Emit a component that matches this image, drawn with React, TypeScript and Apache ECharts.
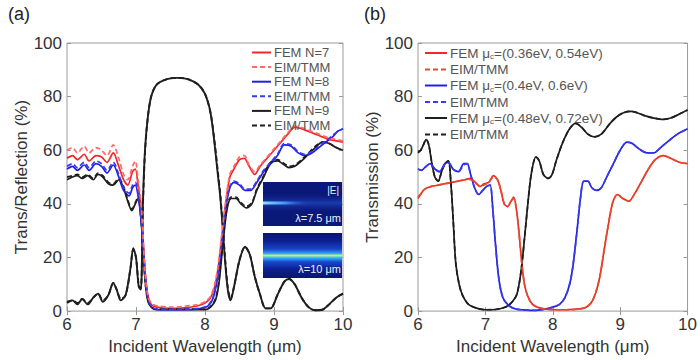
import React, { useEffect, useRef } from "react";
import * as echarts from "echarts";

// ---------- Panel (a): Trans/Reflection vs wavelength ----------
const aReflFEM: number[][] = [
  [6.0, 3], [6.08, 4], [6.15, 2.5], [6.22, 4.5], [6.3, 2.5], [6.38, 5], [6.45, 6.5], [6.52, 3.5],
  [6.6, 6], [6.67, 10.5], [6.72, 8], [6.78, 4], [6.85, 6], [6.92, 16], [6.96, 23.5], [7.0, 20],
  [7.04, 9], [7.07, 8], [7.1, 40], [7.13, 60], [7.17, 72], [7.22, 80], [7.3, 84.5], [7.45, 86.5],
  [7.6, 87], [7.75, 86.5], [7.9, 84.5], [8.0, 81], [8.08, 74], [8.14, 62], [8.19, 50], [8.22, 43],
  [8.26, 30], [8.29, 19], [8.33, 8], [8.37, 4], [8.42, 9], [8.5, 19], [8.58, 24], [8.65, 21],
  [8.72, 13], [8.8, 6], [8.88, 1], [8.95, 1], [9.05, 6], [9.15, 11], [9.22, 12], [9.3, 10],
  [9.4, 5], [9.5, 1.5], [9.6, 0.3], [9.7, 0.5], [9.8, 2.5], [9.9, 5], [10, 6.5],
];
const aReflEIM: number[][] = [
  [6.0, 3.5], [6.08, 4], [6.15, 3], [6.22, 4.5], [6.3, 3], [6.38, 5], [6.45, 6.5], [6.52, 4],
  [6.6, 6], [6.67, 10.5], [6.72, 8], [6.78, 4.5], [6.85, 6], [6.92, 16], [6.96, 23], [7.0, 20],
  [7.04, 9.5], [7.07, 8.5], [7.1, 39], [7.13, 59], [7.17, 72], [7.22, 80], [7.3, 84.5], [7.45, 86.5],
  [7.6, 87], [7.75, 86.5], [7.9, 84.5], [8.0, 81], [8.08, 74], [8.14, 63], [8.19, 51], [8.22, 44],
  [8.26, 31], [8.29, 20], [8.33, 9], [8.37, 4.5], [8.42, 9], [8.5, 19], [8.58, 24], [8.65, 21],
  [8.72, 13], [8.8, 6], [8.88, 1], [8.95, 1], [9.05, 6], [9.15, 11], [9.22, 12], [9.3, 10],
  [9.4, 5], [9.5, 1.5], [9.6, 0.3], [9.7, 0.5], [9.8, 2.5], [9.9, 5], [10, 6.5],
];
const aT7FEM: number[][] = [
  [6.0, 57], [6.08, 58], [6.15, 56.5], [6.25, 58.5], [6.32, 56], [6.42, 58], [6.5, 57.5], [6.58, 55.5],
  [6.67, 59], [6.75, 54], [6.82, 49], [6.88, 47], [6.95, 52], [6.99, 53], [7.03, 47], [7.07, 40],
  [7.1, 28], [7.13, 15], [7.17, 6], [7.22, 2.5], [7.3, 1.5], [7.5, 1], [7.7, 1.2], [7.9, 2],
  [8.0, 3], [8.08, 5], [8.14, 9], [8.19, 16], [8.24, 27], [8.3, 40], [8.36, 50], [8.42, 53],
  [8.5, 56.5], [8.57, 57], [8.64, 54], [8.72, 51], [8.8, 54], [8.9, 57], [9.0, 60], [9.1, 63],
  [9.2, 66], [9.3, 68.5], [9.4, 68], [9.5, 67], [9.6, 66], [9.7, 65], [9.8, 64], [9.9, 63.5], [10, 63],
];
const aT7EIM: number[][] = [
  [6.0, 60], [6.08, 61], [6.15, 59], [6.25, 61.5], [6.32, 59], [6.42, 61], [6.5, 60], [6.58, 58],
  [6.67, 62], [6.75, 57], [6.82, 51], [6.88, 49], [6.95, 54], [6.99, 56], [7.03, 49], [7.07, 41],
  [7.1, 29], [7.13, 15], [7.17, 6], [7.22, 3], [7.3, 2], [7.5, 1.5], [7.7, 1.8], [7.9, 2.5],
  [8.0, 3.5], [8.08, 5.5], [8.14, 10], [8.19, 17], [8.24, 28], [8.3, 41], [8.36, 51], [8.42, 54],
  [8.5, 57.5], [8.57, 58], [8.64, 54.5], [8.72, 52], [8.8, 54.5], [8.9, 57.5], [9.0, 60.5], [9.1, 63.5],
  [9.2, 66.5], [9.3, 69], [9.4, 68.5], [9.5, 67.5], [9.6, 66.5], [9.7, 65.5], [9.8, 64.5], [9.9, 64], [10, 63.5],
];
const aT8FEM: number[][] = [
  [6.0, 53], [6.08, 54], [6.15, 52.5], [6.25, 54.5], [6.32, 52.5], [6.42, 55], [6.5, 54], [6.58, 51.5],
  [6.67, 54.5], [6.75, 50], [6.82, 45], [6.9, 43], [6.95, 46], [6.99, 47], [7.03, 43], [7.07, 35],
  [7.1, 25], [7.14, 12], [7.18, 4], [7.25, 1], [7.4, 0.5], [7.7, 0.5], [7.95, 1], [8.05, 2],
  [8.12, 5], [8.18, 12], [8.24, 24], [8.3, 38], [8.36, 46], [8.42, 48], [8.5, 47], [8.58, 45],
  [8.66, 45], [8.75, 48], [8.85, 52], [8.95, 55], [9.05, 58], [9.15, 62], [9.25, 61.5], [9.35, 59],
  [9.45, 58], [9.55, 59], [9.65, 61], [9.75, 63], [9.85, 65], [9.92, 67], [10, 68],
];
const aT8EIM: number[][] = [
  [6.0, 54], [6.08, 55], [6.15, 53.5], [6.25, 55.5], [6.32, 53.5], [6.42, 56], [6.5, 55], [6.58, 52.5],
  [6.67, 55.5], [6.75, 51], [6.82, 46], [6.9, 44], [6.95, 47], [6.99, 48], [7.03, 44], [7.07, 36],
  [7.1, 26], [7.14, 12], [7.18, 4], [7.25, 1.2], [7.4, 0.7], [7.7, 0.7], [7.95, 1.2], [8.05, 2.3],
  [8.12, 5.5], [8.18, 13], [8.24, 25], [8.3, 39], [8.36, 46.5], [8.42, 48.5], [8.5, 47.5], [8.58, 45.5],
  [8.66, 45.5], [8.75, 48.5], [8.85, 52.5], [8.95, 55.5], [9.05, 58.5], [9.15, 62.5], [9.25, 62], [9.35, 59.5],
  [9.45, 58.5], [9.55, 59.5], [9.65, 61.5], [9.75, 63.5], [9.85, 65.5], [9.92, 67], [10, 68],
];
const aT9FEM: number[][] = [
  [6.0, 49], [6.08, 50], [6.15, 50.5], [6.22, 49.5], [6.3, 50.5], [6.38, 49], [6.45, 51], [6.52, 50],
  [6.6, 47.5], [6.67, 47], [6.75, 49], [6.82, 46], [6.88, 41], [6.94, 37.5], [6.99, 40], [7.03, 42],
  [7.07, 35], [7.1, 25], [7.13, 12], [7.17, 4], [7.22, 1.5], [7.3, 0.5], [7.6, 0.5], [8.0, 0.5],
  [8.08, 1.5], [8.15, 4], [8.2, 10], [8.26, 25], [8.32, 38], [8.38, 42], [8.45, 42], [8.52, 40],
  [8.6, 38.5], [8.68, 40], [8.75, 45], [8.85, 50], [8.95, 55], [9.05, 56], [9.15, 54.5], [9.22, 53.5],
  [9.3, 54], [9.4, 56], [9.5, 58.5], [9.6, 61], [9.7, 63], [9.8, 62.5], [9.9, 61], [10, 60],
];
const aT9EIM: number[][] = [
  [6.0, 50], [6.08, 50.5], [6.15, 51], [6.22, 50], [6.3, 51], [6.38, 49.5], [6.45, 51.5], [6.52, 50.5],
  [6.6, 48], [6.67, 47.5], [6.75, 49.5], [6.82, 46.5], [6.88, 41.5], [6.94, 38], [6.99, 40.5], [7.03, 42.5],
  [7.07, 35.5], [7.1, 25.5], [7.13, 12], [7.17, 4], [7.22, 1.5], [7.3, 0.7], [7.6, 0.7], [8.0, 0.7],
  [8.08, 1.7], [8.15, 4.5], [8.2, 11], [8.26, 26], [8.32, 39], [8.38, 42.5], [8.45, 42.5], [8.52, 40.5],
  [8.6, 39], [8.68, 40.5], [8.75, 45.5], [8.85, 50.5], [8.95, 55.5], [9.05, 56.5], [9.15, 55], [9.22, 54],
  [9.3, 54.5], [9.4, 56.5], [9.5, 59], [9.6, 61.5], [9.7, 63], [9.8, 62.5], [9.9, 61], [10, 60],
];

// ---------- Panel (b): Transmission vs wavelength ----------
const bRedFEM: number[][] = [
  [6.0, 42], [6.05, 44], [6.1, 45.5], [6.2, 46.5], [6.3, 47], [6.4, 47.5], [6.5, 48], [6.6, 48.5],
  [6.7, 49], [6.78, 49.5], [6.85, 48], [6.92, 46.5], [6.98, 47.5], [7.05, 48], [7.12, 50.5], [7.18, 49],
  [7.23, 45], [7.28, 40], [7.33, 39], [7.38, 41], [7.42, 42.5], [7.46, 38], [7.5, 29], [7.54, 18],
  [7.58, 10], [7.63, 5.5], [7.7, 2.5], [7.8, 1.2], [7.95, 0.6], [8.2, 0.5], [8.4, 0.8], [8.5, 1.5],
  [8.58, 3.5], [8.64, 7], [8.7, 13], [8.77, 24], [8.83, 33], [8.89, 40.5], [8.96, 43.5], [9.04, 42],
  [9.13, 41], [9.22, 44], [9.32, 48.5], [9.42, 53], [9.52, 56.5], [9.64, 58], [9.75, 57], [9.88, 55.5], [10, 55],
];
const bRedEIM: number[][] = [
  [6.0, 42.5], [6.05, 44], [6.1, 45.5], [6.2, 46.5], [6.3, 47], [6.4, 47.5], [6.5, 48], [6.6, 48.5],
  [6.7, 49], [6.78, 49], [6.85, 48], [6.92, 46.5], [6.98, 47], [7.05, 48], [7.12, 50], [7.18, 49],
  [7.23, 45], [7.28, 40], [7.33, 39], [7.38, 41], [7.42, 42], [7.46, 38], [7.5, 29], [7.54, 18],
  [7.58, 10], [7.63, 5.5], [7.7, 2.5], [7.8, 1.2], [7.95, 0.6], [8.2, 0.5], [8.4, 0.8], [8.5, 1.5],
  [8.58, 3.5], [8.64, 7], [8.7, 13], [8.77, 24], [8.83, 33], [8.89, 40.5], [8.96, 43.5], [9.04, 42],
  [9.13, 41], [9.22, 44], [9.32, 48.5], [9.42, 53], [9.52, 56.5], [9.64, 58], [9.75, 57], [9.88, 55.5], [10, 55],
];
const bBlueFEM: number[][] = [
  [6.0, 53], [6.05, 52.5], [6.1, 53.5], [6.18, 55], [6.25, 53], [6.32, 52], [6.4, 55], [6.45, 55.5],
  [6.52, 53], [6.6, 52], [6.68, 55], [6.73, 55], [6.78, 51], [6.84, 46], [6.9, 43.5], [6.96, 45],
  [7.02, 46.5], [7.07, 47], [7.11, 38], [7.15, 25], [7.2, 12], [7.26, 5], [7.35, 2], [7.45, 0.8],
  [7.6, 0.4], [7.75, 0.3], [7.9, 0.8], [8.0, 1.5], [8.1, 2.5], [8.18, 5], [8.25, 10], [8.3, 17],
  [8.36, 30], [8.41, 42], [8.46, 48.5], [8.52, 48.5], [8.58, 46], [8.65, 45], [8.72, 46], [8.8, 50],
  [8.9, 55], [9.0, 60], [9.1, 63], [9.18, 62.5], [9.28, 60.5], [9.4, 59], [9.5, 59], [9.6, 61],
  [9.72, 63.5], [9.85, 66], [10, 68],
];
const bBlueEIM: number[][] = [
  [6.0, 53], [6.05, 52.5], [6.1, 53.5], [6.18, 55], [6.25, 53], [6.32, 52], [6.4, 55], [6.45, 55.5],
  [6.52, 53], [6.6, 52], [6.68, 54.5], [6.73, 55], [6.78, 51], [6.84, 46], [6.9, 43.5], [6.96, 45],
  [7.02, 46.5], [7.07, 47], [7.11, 38], [7.15, 25], [7.2, 12], [7.26, 5], [7.35, 2], [7.45, 0.8],
  [7.6, 0.4], [7.75, 0.3], [7.9, 0.8], [8.0, 1.5], [8.1, 2.5], [8.18, 5], [8.25, 10], [8.3, 17],
  [8.36, 30], [8.41, 42], [8.46, 48.5], [8.52, 48.5], [8.58, 46], [8.65, 45], [8.72, 46], [8.8, 50],
  [8.9, 55], [9.0, 60], [9.1, 63], [9.18, 62.5], [9.28, 60.5], [9.4, 59], [9.5, 59], [9.6, 61],
  [9.72, 63.5], [9.85, 66], [10, 68],
];
const bBlackFEM: number[][] = [
  [6.0, 59], [6.04, 60], [6.08, 62], [6.12, 64], [6.16, 62], [6.2, 56], [6.25, 50], [6.3, 48.5],
  [6.35, 52], [6.4, 55], [6.45, 56], [6.49, 47], [6.52, 35], [6.56, 18], [6.61, 10], [6.66, 6],
  [6.75, 2.5], [6.88, 1], [7.0, 0.5], [7.15, 0.6], [7.3, 1.5], [7.4, 3.5], [7.47, 6.5], [7.53, 15],
  [7.58, 27], [7.63, 40], [7.68, 51], [7.75, 57.5], [7.8, 56], [7.86, 51], [7.93, 49.5], [7.99, 51],
  [8.05, 56], [8.15, 63], [8.25, 68], [8.34, 70], [8.43, 68.5], [8.52, 66], [8.62, 65], [8.72, 66],
  [8.85, 70], [8.95, 72.5], [9.05, 74], [9.16, 74.5], [9.25, 74], [9.35, 73], [9.5, 72], [9.64, 71.5],
  [9.75, 72], [9.88, 73.5], [10, 75],
];
const bBlackEIM: number[][] = [
  [6.0, 59.5], [6.04, 60], [6.08, 62], [6.12, 64], [6.16, 62], [6.2, 56], [6.25, 50], [6.3, 48.5],
  [6.35, 52], [6.4, 55], [6.45, 56], [6.49, 47], [6.52, 35], [6.56, 18], [6.61, 10], [6.66, 6],
  [6.75, 2.5], [6.88, 1], [7.0, 0.5], [7.15, 0.6], [7.3, 1.5], [7.4, 3.5], [7.47, 6.5], [7.53, 15],
  [7.58, 27], [7.63, 40], [7.68, 51], [7.75, 57.5], [7.8, 56], [7.86, 51], [7.93, 49.5], [7.99, 51],
  [8.05, 56], [8.15, 63], [8.25, 68], [8.34, 70], [8.43, 68.5], [8.52, 66], [8.62, 65], [8.72, 66],
  [8.85, 70], [8.95, 72.5], [9.05, 74], [9.16, 74.5], [9.25, 74], [9.35, 73], [9.5, 72], [9.64, 71.5],
  [9.75, 72], [9.88, 73.5], [10, 75],
];

const legendA = ["FEM N=7", "EIM/TMM N=7", "FEM N=8", "EIM/TMM N=8", "FEM N=9", "EIM/TMM N=9"];
const legendB = ["FEM 0.36", "EIM 0.36", "FEM 0.4", "EIM 0.4", "FEM 0.48", "EIM 0.48"];
const legendBLabels: Record<string, string> = {
  "FEM 0.36": "FEM \u03bc{s|c}=(0.36eV, 0.54eV)",
  "EIM 0.36": "EIM/TMM",
  "FEM 0.4": "FEM \u03bc{s|c}=(0.4eV, 0.6eV)",
  "EIM 0.4": "EIM/TMM",
  "FEM 0.48": "FEM \u03bc{s|c}=(0.48eV, 0.72eV)",
  "EIM 0.48": "EIM/TMM",
};

const FONT = "Liberation Sans, Arial, sans-serif";
const RED = "#f02828";
const RED_D = "#ff6a6a";
const RED_DB = "#e0502a";
const BLUE = "#2020e0";
const BLUE_D = "#3a3af0";
const BLACK = "#1e1e1e";

export default function App() {
  const ref = useRef<HTMLDivElement>(null);
  useEffect(() => {
    if (!ref.current) return;
    const chart = echarts.init(ref.current, null, { renderer: "svg" });

    const gridA = { left: 67, right: 357, top: 43, bottom: 47 };
    const gridB = { left: 418, right: 5, top: 43, bottom: 47 };

    const xBase = (gi: number, name: string, primary: boolean) => ({
      type: "value",
      gridIndex: gi,
      min: 6,
      max: 10,
      interval: 1,
      position: primary ? "bottom" : "top",
      name: primary ? name : "",
      nameLocation: "middle",
      nameGap: 20,
      nameTextStyle: { fontFamily: FONT, fontSize: 17, color: "#333" },
      axisLine: { show: false },
      axisTick: { show: true, inside: true, length: 4, lineStyle: { color: "#999" } },
      axisLabel: primary
        ? { show: true, margin: 5, fontFamily: FONT, fontSize: 17, color: "#333" }
        : { show: false },
      splitLine: { show: false },
    });
    const yBase = (gi: number, name: string, primary: boolean, gap: number) => ({
      type: "value",
      gridIndex: gi,
      min: 0,
      max: 100,
      interval: 20,
      position: primary ? "left" : "right",
      name: primary ? name : "",
      nameLocation: "middle",
      nameGap: gap,
      nameTextStyle: { fontFamily: FONT, fontSize: 17, color: "#333" },
      axisLine: { show: false },
      axisTick: { show: true, inside: true, length: 4, lineStyle: { color: "#999" } },
      axisLabel: primary
        ? { show: true, margin: 5, fontFamily: FONT, fontSize: 17, color: "#333" }
        : { show: false },
      splitLine: { show: false },
    });

    const line = (
      name: string,
      data: number[][],
      color: string,
      dashed: boolean,
      xi: number,
      yi: number,
      width = 1.7
    ) => ({
      type: "line",
      name,
      data,
      xAxisIndex: xi,
      yAxisIndex: yi,
      symbol: "none",
      smooth: 0.3,
      lineStyle: { color, width, type: dashed ? [5, 3] : "solid" },
      itemStyle: { color },
      z: dashed ? 3 : 2,
    });

    const option: any = {
      animation: false,
      backgroundColor: "#ffffff",
      grid: [
        { ...gridA, show: true, borderColor: "#9a9a9a", borderWidth: 1, backgroundColor: "#fff" },
        { ...gridB, show: true, borderColor: "#9a9a9a", borderWidth: 1, backgroundColor: "#fff" },
      ],
      xAxis: [
        xBase(0, "Incident Wavelength (\u03bcm)", true),
        xBase(0, "", false),
        xBase(1, "Incident Wavelength (\u03bcm)", true),
        xBase(1, "", false),
      ],
      yAxis: [
        yBase(0, "Trans/Reflection (%)", true, 35),
        yBase(0, "", false, 0),
        yBase(1, "Transmission (%)", true, 36),
        yBase(1, "", false, 0),
      ],
      legend: [
        {
          data: legendA,
          orient: "vertical",
          left: 251,
          top: 46,
          itemWidth: 19,
          itemHeight: 11,
          itemGap: 1.6,
          padding: 0,
          itemStyle: { opacity: 0 },
          formatter: (n: string) => (n.startsWith("EIM") ? "EIM/TMM" : n),
          textStyle: { fontFamily: FONT, fontSize: 13, color: "#555", padding: [0, 0, 0, -2] },
        },
        {
          data: legendB,
          orient: "vertical",
          left: 424,
          top: 46,
          itemWidth: 22,
          itemHeight: 12,
          itemGap: 2,
          padding: 0,
          itemStyle: { opacity: 0 },
          formatter: (n: string) => legendBLabels[n] || n,
          textStyle: {
            fontFamily: FONT,
            fontSize: 13.5,
            color: "#555",
            padding: [0, 0, 0, -2],
            rich: { s: { fontFamily: FONT, fontSize: 8, color: "#555", padding: [7, 0, 0, 0] } },
          },
        },
      ],
      series: [
        line("R FEM", aReflFEM, BLACK, false, 0, 0, 1.9),
        line("R EIM", aReflEIM, BLACK, true, 0, 0, 1.9),
        line("FEM N=9", aT9FEM, BLACK, false, 0, 0),
        line("EIM/TMM N=9", aT9EIM, BLACK, true, 0, 0),
        line("FEM N=8", aT8FEM, BLUE, false, 0, 0),
        line("EIM/TMM N=8", aT8EIM, BLUE_D, true, 0, 0),
        line("FEM N=7", aT7FEM, RED, false, 0, 0),
        line("EIM/TMM N=7", aT7EIM, RED_D, true, 0, 0),
        line("FEM 0.48", bBlackFEM, BLACK, false, 2, 2),
        line("EIM 0.48", bBlackEIM, BLACK, true, 2, 2),
        line("FEM 0.4", bBlueFEM, BLUE, false, 2, 2),
        line("EIM 0.4", bBlueEIM, BLUE_D, true, 2, 2),
        line("FEM 0.36", bRedFEM, RED, false, 2, 2),
        line("EIM 0.36", bRedEIM, RED_DB, true, 2, 2),
      ],
      graphic: [
        { type: "text", left: 8, top: 5, style: { text: "(a)", font: `18px ${FONT}`, fill: "#222" } },
        { type: "text", left: 364, top: 5, style: { text: "(b)", font: `18px ${FONT}`, fill: "#222" } },
        // inset 1 (|E| at 7.5 um)
        { type: "rect", shape: { x: 263, y: 182, width: 79, height: 44 }, style: { fill: "#0a1878" }, z: 20 },
        {
          type: "rect",
          shape: { x: 263, y: 194, width: 79, height: 18 },
          style: {
            fill: new echarts.graphic.LinearGradient(0, 0, 0, 1, [
              { offset: 0, color: "rgba(20,40,150,0)" },
              { offset: 0.5, color: "rgba(30,70,190,0.8)" },
              { offset: 1, color: "rgba(20,40,150,0)" },
            ]),
          },
          z: 21,
        },
        {
          type: "rect",
          shape: { x: 263, y: 201.5, width: 45, height: 3 },
          style: {
            fill: new echarts.graphic.LinearGradient(0, 0, 1, 0, [
              { offset: 0, color: "rgba(140,230,255,1)" },
              { offset: 0.5, color: "rgba(80,170,255,0.8)" },
              { offset: 1, color: "rgba(40,80,220,0)" },
            ]),
          },
          z: 22,
        },
        { type: "text", x: 339, y: 185, style: { text: "|E|", font: `10px ${FONT}`, fill: "#e8eeff", align: "right" }, z: 23 },
        { type: "text", x: 341, y: 212, style: { text: "\u03bb=7.5 \u03bcm", font: `11px ${FONT}`, fill: "#e8eeff", align: "right" }, z: 23 },
        // inset 2 (10 um)
        {
          type: "rect",
          shape: { x: 263, y: 233, width: 79, height: 45 },
          style: {
            fill: new echarts.graphic.LinearGradient(0, 0, 0, 1, [
              { offset: 0, color: "#0a1570" },
              { offset: 0.18, color: "#0d1f90" },
              { offset: 0.36, color: "#1a44c8" },
              { offset: 0.45, color: "#2c9cf8" },
              { offset: 0.5, color: "#c8f070" },
              { offset: 0.55, color: "#30b8ff" },
              { offset: 0.64, color: "#1848d0" },
              { offset: 0.8, color: "#0d2090" },
              { offset: 1, color: "#0a1570" },
            ]),
          },
          z: 20,
        },
        { type: "text", x: 341, y: 263, style: { text: "\u03bb=10 \u03bcm", font: `11px ${FONT}`, fill: "#e8eeff", align: "right" }, z: 23 },
      ],
    };
    chart.setOption(option);
    return () => chart.dispose();
  }, []);
  return (
    <div
      ref={ref}
      style={{ position: "fixed", left: 0, top: 0, width: 700, height: 360, background: "#fff" }}
    />
  );
}
